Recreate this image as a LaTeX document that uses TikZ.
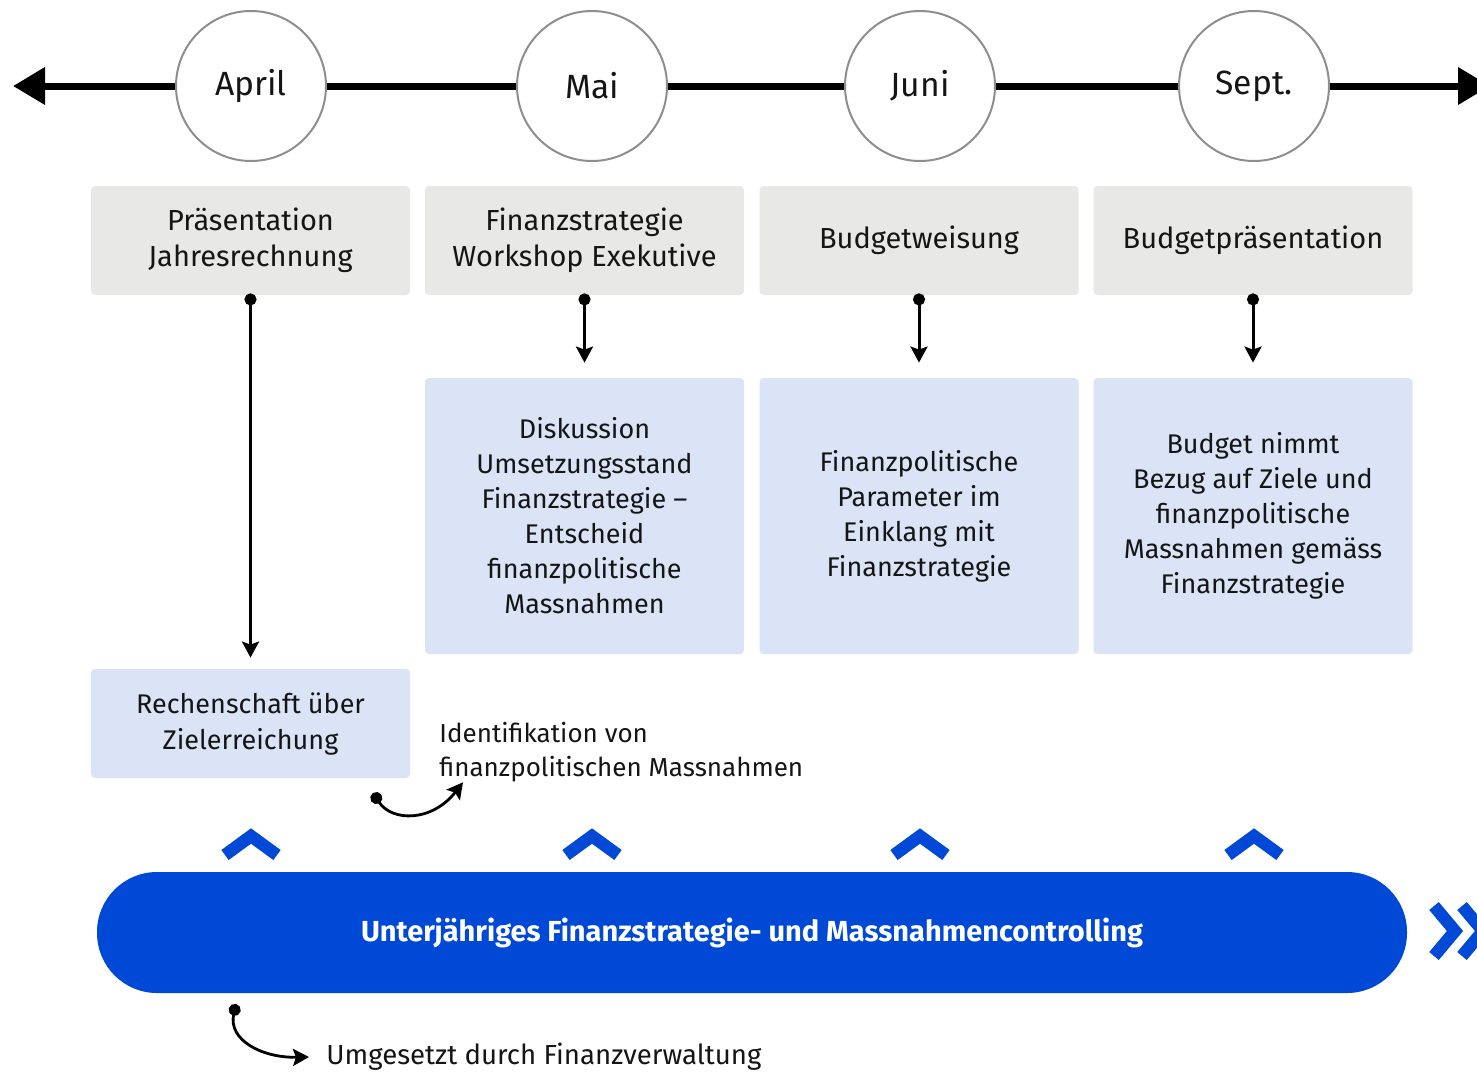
\documentclass[tikz,border=0pt]{standalone}
\usepackage{fontspec}
\setmainfont{Fira Sans}
\usetikzlibrary{arrows.meta}
\definecolor{boxgray}{HTML}{E8E8E6}
\definecolor{boxblue}{HTML}{DAE4F6}
\definecolor{strongblue}{HTML}{0049D6}
\definecolor{ringgray}{HTML}{8E8E8E}
\definecolor{txt}{HTML}{151515}
\tikzset{
  month/.style={circle, draw=ringgray, line width=1pt, fill=white, minimum size=75pt, inner sep=0pt, font=\fontsize{16.8}{18}\selectfont, text=txt},
  stagebox/.style={rectangle, rounded corners=2pt, fill=boxgray, minimum width=159.5pt, minimum height=54.5pt, inner sep=0pt, align=center, font=\fontsize{14.5}{18}\selectfont, text=txt},
  resultbox/.style={rectangle, rounded corners=2pt, fill=boxblue, minimum width=159.5pt, minimum height=138pt, inner sep=0pt, align=center, font=\fontsize{13.5}{17.5}\selectfont, text=txt},
  link/.style={line width=1.5pt, {Circle[length=6pt]}-{Stealth[length=8pt,width=8.5pt,inset=1.5pt]}},
  curl/.style={line width=1.4pt, {Circle[length=6pt]}-{Stealth[length=8pt,width=8.5pt,inset=1.5pt]}},
  note/.style={anchor=west, align=left, inner sep=0pt, font=\fontsize{13.5}{17}\selectfont, text=txt},
  chev/.style={draw=strongblue, line width=6.2pt, line join=miter, line cap=butt},
}
\begin{document}
\begin{tikzpicture}[x=0.5pt,y=-0.5pt]
\clip (0,0) rectangle (1477,1072);
\fill[white] (0,0) rectangle (1477,1072);

% timeline
\coordinate (tl) at (13,86);
\coordinate (tr) at (1490,86);
\draw[line width=3.5pt, {Triangle[length=16pt,width=18pt]}-{Triangle[length=16pt,width=18pt]}] (tl) -- (tr);

% months
\node[month] (m1) at (251,86) {April};
\node[month] (m2) at (592,86) {Mai};
\node[month] (m3) at (920,86) {Juni};
\node[month] (m4) at (1254,86) {Sept.};

% stage boxes
\node[stagebox] (g1) at (250.5,240.5) {Präsentation\\Jahresrechnung};
\node[stagebox] (g2) at (584.5,240.5) {Finanzstrategie\\Workshop Exekutive};
\node[stagebox] (g3) at (919,240.5) {Budgetweisung};
\node[stagebox] (g4) at (1253,240.5) {Budgetpräsentation};

% result boxes
\node[resultbox] (b2) at (584.5,516) {Diskussion\\Umsetzungsstand\\Finanzstrategie –\\Entscheid\\finanzpolitische\\Massnahmen};
\node[resultbox] (b3) at (919,516) {Finanzpolitische\\Parameter im\\Einklang mit\\Finanzstrategie};
\node[resultbox] (b4) at (1253,516) {Budget nimmt\\Bezug auf Ziele und\\finanzpolitische\\Massnahmen gemäss\\Finanzstrategie};
\node[stagebox, fill=boxblue, font=\fontsize{13.5}{18}\selectfont] (b1) at (250.5,723.5) {Rechenschaft über\\Zielerreichung};

% links from stage boxes
\draw[link, shorten <=-1pt, shorten >=5.5pt] (g1.south) -- (b1.north);
\draw[link, shorten <=-1pt, shorten >=7.5pt] (g2.south) -- (b2.north);
\draw[link, shorten <=-1pt, shorten >=7.5pt] (g3.south) -- (b3.north);
\draw[link, shorten <=-1pt, shorten >=7.5pt] (g4.south) -- (b4.north);

% note on measures
\node[note, font=\fontsize{13}{17}\selectfont] (n1) at (439,752) {Identifikation von\\finanzpolitischen Massnahmen};
\coordinate (c1) at (373,793);
\draw[curl] (c1) .. controls (392,822) and (432,822) .. (n1.south west -| 463,796);

% chevrons
\foreach \cx in {251,592,920,1254}
  \draw[chev] (\cx-26,855) -- (\cx,836) -- (\cx+26,855);

% controlling bar
\node[rectangle, rounded corners=30pt, fill=strongblue, minimum width=655pt, minimum height=60.5pt, inner sep=0pt, text=white, font=\bfseries\fontsize{14.5}{16}\selectfont] (bar) at (752,932.5) {Unterjähriges Finanzstrategie- und Massnahmencontrolling};

% continuation marks
\draw[chev] (1434,906) -- (1455,931) -- (1434,956);
\draw[chev] (1462,906) -- (1483,931) -- (1462,956);

% note on execution
\node[note, font=\fontsize{13.8}{17}\selectfont] (n2) at (326,1057) {Umgesetzt durch Finanzverwaltung};
\coordinate (c2) at (236,1004);
\draw[curl] (c2) .. controls (228,1040) and (262,1058) .. (n2.west -| 309,1058);
\end{tikzpicture}
\end{document}
